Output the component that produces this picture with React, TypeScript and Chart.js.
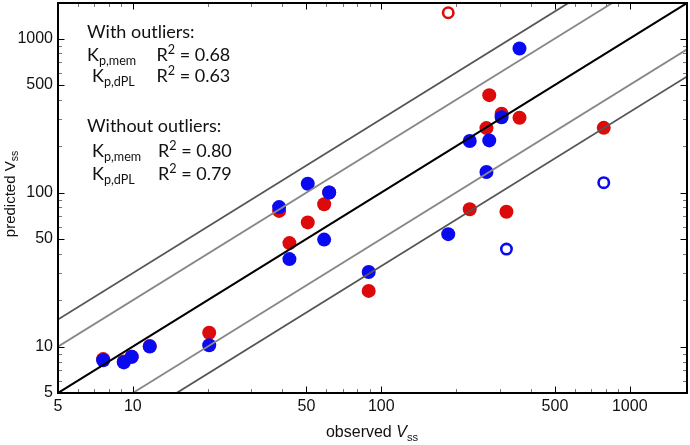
import React, { useEffect, useRef } from 'react';
import { Chart, registerables } from 'chart.js';

Chart.register(...registerables);

// ---- data ----
const observedVss = [7.6, 9.2, 9.9, 11.7, 20.3, 38.8, 42.7, 50.6, 58.9, 61.7, 89, 186, 227, 265, 272, 305, 319, 360, 786];
const predictedKpMem = [8.3, 8.0, 8.6, 10.1, 12.3, 76, 47, 64, 84, 100, 23, 1470, 78, 262, 429, 325, 75, 306, 263];
const predictedKpDpl = [8.15, 7.9, 8.6, 10, 10.2, 80.5, 37, 114, 49.5, 100, 30.5, 53.7, 216, 136, 218, 308, 43, 861, 116];
const outlierIdxKpMem = [11];
const outlierIdxKpDpl = [16, 18];
const foldFactors = [3, 2, 1, 1 / 2, 1 / 3];
const axisMin = 5;
const axisMax = 1700;
const majorTicks = [5, 10, 50, 100, 500, 1000];
const minorTicks = [6, 7, 8, 9, 20, 30, 40, 60, 70, 80, 90, 200, 300, 400, 600, 700, 800, 900];
const headingWith = 'With outliers:';
const headingWithout = 'Without outliers:';
const methodSubs = ['p,mem', 'p,dPL'];
const r2With = ['0.68', '0.63'];
const r2Without = ['0.80', '0.79'];

// ---- styles ----
const RED = '#dc0a0a';
const BLUE = '#0a0af0';
const foldColor = (f: number) => (f === 1 ? '#000000' : (f === 2 || f === 0.5) ? '#888888' : '#555555');
const tickFont = '"Liberation Sans", Arial, sans-serif';
const noteFont = 'Lato, "Open Sans", sans-serif';

type Part = { text: string; sub?: boolean; sup?: boolean; italic?: boolean };

function drawParts(ctx: CanvasRenderingContext2D, x: number, y: number, parts: Part[], size: number, family: string, measureOnly = false) {
  let cx = x;
  for (const p of parts) {
    const s = p.sub || p.sup ? size * 0.7 : size;
    ctx.font = `${p.italic ? 'italic ' : ''}${s}px ${family}`;
    const dy = p.sub ? size * 0.22 : p.sup ? -size * 0.4 : 0;
    if (!measureOnly) ctx.fillText(p.text, cx, y + dy);
    cx += ctx.measureText(p.text).width;
  }
  return cx - x;
}

const decorPlugin = {
  id: 'decor',
  afterDraw(chart: any) {
    const { ctx, chartArea: a, scales } = chart;
    const xs = scales.x;
    const ys = scales.y;
    ctx.save();
    // inward ticks
    const all = [...majorTicks.map((v) => [v, 6.5, '#000']), ...minorTicks.map((v) => [v, 4, '#777'])] as [number, number, string][];
    ctx.lineWidth = 1;
    for (const [v, len, col] of all) {
      ctx.strokeStyle = col;
      const px = Math.round(xs.getPixelForValue(v)) + 0.5;
      const py = Math.round(ys.getPixelForValue(v)) + 0.5;
      ctx.beginPath();
      ctx.moveTo(px, a.bottom); ctx.lineTo(px, a.bottom - len);
      ctx.moveTo(px, a.top); ctx.lineTo(px, a.top + len);
      ctx.moveTo(a.left, py); ctx.lineTo(a.left + len, py);
      ctx.moveTo(a.right, py); ctx.lineTo(a.right - len, py);
      ctx.stroke();
    }
    // frame
    ctx.strokeStyle = '#000';
    ctx.lineWidth = 2;
    ctx.strokeRect(a.left, a.top, a.right - a.left, a.bottom - a.top);

    // annotations
    ctx.fillStyle = '#111';
    ctx.textBaseline = 'alphabetic';
    ctx.textAlign = 'left';
    const ns = 18;
    drawParts(ctx, 87, 37.7, [{ text: headingWith }], ns, noteFont);
    drawParts(ctx, 87, 61, [{ text: 'K' }, { text: methodSubs[0], sub: true }], ns, noteFont);
    drawParts(ctx, 156.5, 61, [{ text: 'R' }, { text: '2', sup: true }, { text: ' = ' + r2With[0] }], ns, noteFont);
    drawParts(ctx, 92, 81.7, [{ text: 'K' }, { text: methodSubs[1], sub: true }], ns, noteFont);
    drawParts(ctx, 156.5, 81.7, [{ text: 'R' }, { text: '2', sup: true }, { text: ' = ' + r2With[1] }], ns, noteFont);
    drawParts(ctx, 87, 132.3, [{ text: headingWithout }], ns, noteFont);
    drawParts(ctx, 92, 156.7, [{ text: 'K' }, { text: methodSubs[0], sub: true }], ns, noteFont);
    drawParts(ctx, 158, 156.7, [{ text: 'R' }, { text: '2', sup: true }, { text: ' = ' + r2Without[0] }], ns, noteFont);
    drawParts(ctx, 92, 180, [{ text: 'K' }, { text: methodSubs[1], sub: true }], ns, noteFont);
    drawParts(ctx, 158, 180, [{ text: 'R' }, { text: '2', sup: true }, { text: ' = ' + r2Without[1] }], ns, noteFont);

    // axis titles
    ctx.fillStyle = '#111';
    const xt: Part[] = [{ text: 'observed ' }, { text: 'V', italic: true }, { text: 'ss', sub: true }];
    const xw = drawParts(ctx, 0, 0, xt, 16, tickFont, true);
    drawParts(ctx, 372 - xw / 2, 437, xt, 16, tickFont);
    const yt: Part[] = [{ text: 'predicted ' }, { text: 'V' }, { text: 'ss', sub: true }];
    const yw = drawParts(ctx, 0, 0, yt, 15, tickFont, true);
    ctx.translate(14.5, 194);
    ctx.rotate(-Math.PI / 2);
    drawParts(ctx, -yw / 2, 0, yt, 15, tickFont);
    ctx.restore();
  },
};

const tickValues = [...majorTicks, ...minorTicks].sort((a, b) => a - b);

function makeScale(axis: 'x' | 'y') {
  return {
    type: 'logarithmic' as const,
    min: axisMin,
    max: axisMax,
    grid: { display: false, drawTicks: false },
    border: { display: false },
    afterBuildTicks: (scale: any) => {
      scale.ticks = tickValues.map((v) => ({ value: v }));
    },
    afterFit: (scale: any) => {
      if (axis === 'y') scale.width = 58;
      else scale.height = 52;
      scale.paddingTop = 0;
      scale.paddingBottom = 0;
      scale.paddingLeft = 0;
      scale.paddingRight = 0;
    },
    ticks: {
      autoSkip: false,
      maxRotation: 0,
      padding: axis === 'y' ? 5 : 4,
      color: '#111',
      font: { family: tickFont, size: 16 },
      callback: (v: any) => (majorTicks.includes(Number(v)) ? String(v) : ''),
    },
  };
}

export default function App() {
  const ref = useRef<HTMLCanvasElement | null>(null);
  useEffect(() => {
    if (!ref.current) return;
    const pts = (ys: number[]) => observedVss.map((x, i) => ({ x, y: ys[i] }));
    const fillArr = (color: string, outl: number[]) => observedVss.map((_, i) => (outl.includes(i) ? '#ffffff' : color));
    const radArr = (outl: number[]) => observedVss.map((_, i) => (outl.includes(i) ? 5.2 : 7));
    const bwArr = (outl: number[]) => observedVss.map((_, i) => (outl.includes(i) ? 2.6 : 0));
    const foldSets = foldFactors.map((f) => ({
      type: 'line' as const,
      data: [{ x: 1, y: f * 1 }, { x: 10000, y: f * 10000 }],
      borderColor: foldColor(f),
      borderWidth: f === 1 ? 2 : 1.8,
      pointRadius: 0,
      fill: false,
      order: 0,
      clip: 0,
    }));
    const chart = new Chart(ref.current, {
      type: 'scatter',
      data: {
        datasets: [
          ...foldSets,
          {
            type: 'scatter',
            label: 'Kp,dPL',
            data: pts(predictedKpDpl),
            pointBackgroundColor: fillArr(BLUE, outlierIdxKpDpl),
            pointBorderColor: BLUE,
            pointRadius: radArr(outlierIdxKpDpl),
            pointBorderWidth: bwArr(outlierIdxKpDpl),
            pointHoverRadius: radArr(outlierIdxKpDpl),
            order: 1,
          },
          {
            type: 'scatter',
            label: 'Kp,mem',
            data: pts(predictedKpMem),
            pointBackgroundColor: fillArr(RED, outlierIdxKpMem),
            pointBorderColor: RED,
            pointRadius: radArr(outlierIdxKpMem),
            pointBorderWidth: bwArr(outlierIdxKpMem),
            pointHoverRadius: radArr(outlierIdxKpMem),
            order: 2,
          },
        ] as any,
      },
      options: {
        animation: false,
        responsive: false,
        devicePixelRatio: 1,
        events: [],
        layout: { autoPadding: false, padding: { top: 3, right: 3, left: 0, bottom: 0 } },
        plugins: { legend: { display: false }, tooltip: { enabled: false } },
        scales: { x: makeScale('x') as any, y: makeScale('y') as any },
      },
      plugins: [decorPlugin],
    });
    return () => chart.destroy();
  }, []);
  return (
    <div style={{ position: 'absolute', left: 0, top: 0, width: 690, height: 445, background: '#fff' }}>
      <canvas ref={ref} width={690} height={445} style={{ width: 690, height: 445, display: 'block' }} />
    </div>
  );
}
